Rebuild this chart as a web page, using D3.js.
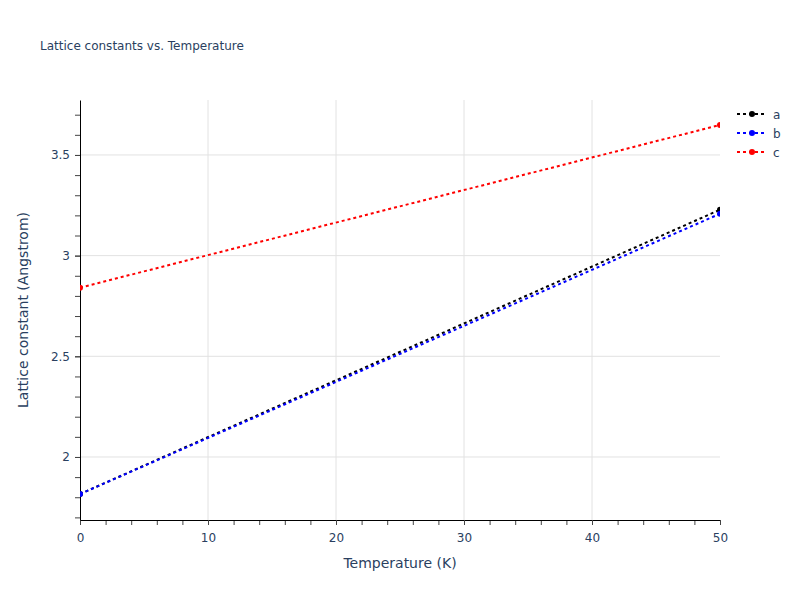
<!DOCTYPE html>
<html>
<head>
<meta charset="utf-8">
<script src="https://cdn.jsdelivr.net/npm/d3@7"></script>
<style>
  body { margin: 0; background: #fff; }
  text { font-family: "DejaVu Sans", Verdana, sans-serif; }
</style>
</head>
<body>
<div id="chart"></div>
<script>
// data
const temperature = [0, 50];
const seriesNames = ["a", "b", "c"];
const seriesColors = ["black", "blue", "red"];
const aValues = [1.816, 3.228];
const bValues = [1.816, 3.208];
const cValues = [2.841, 3.649];
const xTicks = [0, 10, 20, 30, 40, 50];
const yTicks = [2, 2.5, 3, 3.5];

const W = 800, H = 600;
const margin = { top: 100, right: 80, bottom: 80, left: 80 };
const width = W - margin.left - margin.right;
const height = H - margin.top - margin.bottom;
const textColor = "#2a3f5f";

const svg = d3.select("#chart").append("svg")
  .attr("width", W).attr("height", H);

const g = svg.append("g")
  .attr("transform", "translate(" + margin.left + "," + margin.top + ")");

const xScale = d3.scaleLinear().domain([0, 50]).range([0, width]);
const yScale = d3.scaleLinear().domain([1.687, 3.773]).range([height, 0]);

// grid
g.append("g").selectAll("line")
  .data(xTicks.filter(d => d > 0 && d < 50))
  .join("line")
  .attr("x1", d => xScale(d)).attr("x2", d => xScale(d))
  .attr("y1", 0).attr("y2", height)
  .attr("stroke", "#e2e2e2").attr("stroke-width", 1);
g.append("g").selectAll("line")
  .data(yTicks)
  .join("line")
  .attr("x1", 0).attr("x2", width)
  .attr("y1", d => yScale(d)).attr("y2", d => yScale(d))
  .attr("stroke", "#e2e2e2").attr("stroke-width", 1);

// axes
const xMinor = d3.range(0, 50.001, 2);
const yMinor = d3.range(1.7, 3.75, 0.1).map(d => +d.toFixed(1));

const xAxisMinor = g.append("g")
  .attr("transform", "translate(0," + height + ")")
  .call(d3.axisBottom(xScale).tickValues(xMinor).tickSize(5).tickFormat(""));
xAxisMinor.select(".domain").remove();
xAxisMinor.selectAll("line").attr("stroke", "#444");

const xAxis = g.append("g")
  .attr("transform", "translate(0," + height + ")")
  .call(d3.axisBottom(xScale).tickValues(xTicks).tickSize(5).tickSizeOuter(0).tickPadding(8));
xAxis.select(".domain").attr("stroke", "black");
xAxis.selectAll("line").attr("stroke", "#444");
xAxis.selectAll("text").attr("fill", textColor).style("font-size", "12px");

const yAxisMinor = g.append("g")
  .call(d3.axisLeft(yScale).tickValues(yMinor).tickSize(5).tickFormat(""));
yAxisMinor.select(".domain").remove();
yAxisMinor.selectAll("line").attr("stroke", "#444");

const yAxis = g.append("g")
  .call(d3.axisLeft(yScale).tickValues(yTicks).tickSize(5).tickSizeOuter(0).tickPadding(5)
    .tickFormat(d3.format("")));
yAxis.select(".domain").attr("stroke", "black");
yAxis.selectAll("line").attr("stroke", "#444");
yAxis.selectAll("text").attr("fill", textColor).style("font-size", "12px");

// series
const series = [aValues, bValues, cValues].map((vals, i) => ({
  name: seriesNames[i],
  color: seriesColors[i],
  points: temperature.map((t, j) => [t, vals[j]])
}));

svg.append("defs").append("clipPath").attr("id", "plotclip")
  .append("rect").attr("width", width).attr("height", height);

const plot = g.append("g").attr("clip-path", "url(#plotclip)");
const line = d3.line().x(d => xScale(d[0])).y(d => yScale(d[1]));

series.forEach(s => {
  plot.append("path")
    .datum(s.points)
    .attr("d", line)
    .attr("fill", "none")
    .attr("stroke", s.color)
    .attr("stroke-width", 2)
    .attr("stroke-dasharray", "3,3");
  plot.selectAll(null)
    .data(s.points)
    .join("circle")
    .attr("cx", d => xScale(d[0]))
    .attr("cy", d => yScale(d[1]))
    .attr("r", 3)
    .attr("fill", s.color);
});

// title
svg.append("text")
  .attr("x", 40).attr("y", 50)
  .attr("fill", textColor)
  .style("font-size", "12px")
  .text("Lattice constants vs. Temperature");

// axis titles
svg.append("text")
  .attr("x", margin.left + width / 2).attr("y", 568)
  .attr("text-anchor", "middle")
  .attr("fill", textColor)
  .style("font-size", "14px")
  .text("Temperature (K)");

svg.append("text")
  .attr("transform", "translate(28," + (margin.top + height / 2) + ") rotate(-90)")
  .attr("text-anchor", "middle")
  .attr("fill", textColor)
  .style("font-size", "14px")
  .text("Lattice constant (Angstrom)");

// legend
const legend = svg.append("g").attr("transform", "translate(737,114)");
series.forEach((s, i) => {
  const row = legend.append("g").attr("transform", "translate(0," + (i * 19) + ")");
  row.append("line")
    .attr("x1", 0).attr("x2", 30)
    .attr("stroke", s.color).attr("stroke-width", 2)
    .attr("stroke-dasharray", "3,3");
  row.append("circle").attr("cx", 15).attr("r", 3).attr("fill", s.color);
  row.append("text")
    .attr("x", 36).attr("y", 4.5)
    .attr("fill", textColor)
    .style("font-size", "12px")
    .text(s.name);
});
</script>
</body>
</html>
